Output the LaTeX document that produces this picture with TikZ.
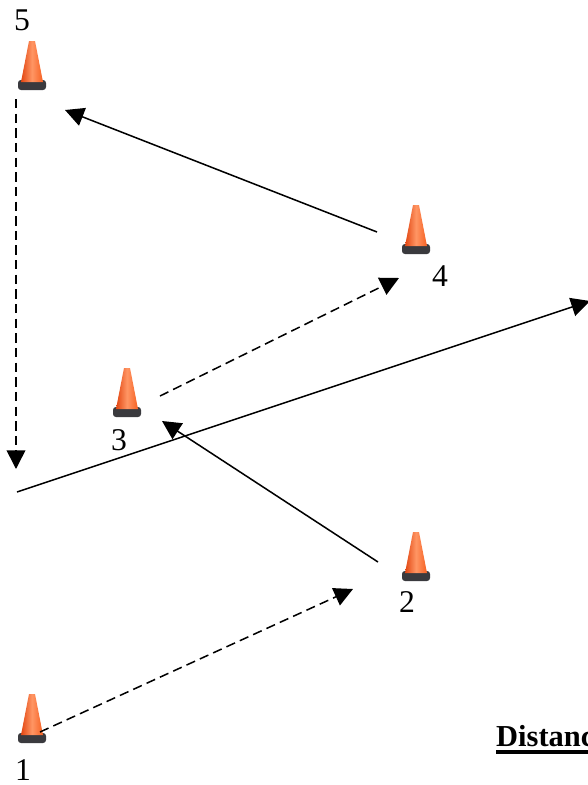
\documentclass[tikz,border=0pt]{standalone}
\usepackage{fontspec}
\setmainfont{Liberation Serif}
\usetikzlibrary{arrows.meta}

\definecolor{coneDark}{RGB}{226,70,18}
\definecolor{coneMid}{RGB}{246,96,34}
\definecolor{coneLight}{RGB}{255,150,100}
\definecolor{coneBase}{RGB}{58,58,62}

% one traffic cone, centre x and top y (in pixels)
\newcommand{\drawcone}[2]{%
  \begin{scope}[shift={(#1,#2)}]
    \fill[coneBase, rounded corners=2.5pt] (-14,39) rectangle (14,49);
    \shade[left color=coneDark, right color=coneMid, middle color=coneLight]
      (-3,0) -- (3,0) -- (11,41) -- (-11,41) -- cycle;
  \end{scope}}

\begin{document}
\begin{tikzpicture}[x=0.03cm, y=-0.03cm,
    lbl/.style={font=\fontsize{27}{30}\selectfont, inner sep=0pt},
    arr/.style={line width=1.3pt, -{Triangle[length=16pt,width=16pt]}},
    dasharr/.style={arr, dash pattern=on 8pt off 4.5pt}]
  \useasboundingbox (0,0) rectangle (587,785);
  % Cones
  \drawcone{32}{694}
  \drawcone{416}{532}
  \drawcone{127}{368}
  \drawcone{416}{205}
  \drawcone{32}{41}
  % Labels
  \node[lbl] (one) at (23,770) {1};
  \node[lbl] (two) at (407,602) {2};
  \node[lbl] (three) at (119,440) {3};
  \node[lbl] (four) at (440,276) {4};
  \node[lbl] (five) at (22,20) {5};
  \node[lbl, anchor=base west, font=\fontsize{26}{30}\selectfont\bfseries] (dist) at (496,746) {Distance};
  \fill (496,749.5) rectangle (640,753.5);
  % Path ends
  \coordinate (oneOut) at (40,732);
  \coordinate (twoIn) at (353,589);
  \coordinate (twoOut) at (378,562);
  \coordinate (threeIn) at (162,421);
  \coordinate (threeOut) at (160,396);
  \coordinate (fourIn) at (399,278);
  \coordinate (fourOut) at (377,232);
  \coordinate (fiveIn) at (65,110);
  \coordinate (fiveOut) at (16,99);
  \coordinate (downEnd) at (16,469);
  \coordinate (runStart) at (17,492);
  \coordinate (runEnd) at (590,301);
  % Arrows
  \draw[dasharr] (oneOut) -- (twoIn);
  \draw[arr] (twoOut) -- (threeIn);
  \draw[dasharr] (threeOut) -- (fourIn);
  \draw[arr] (fourOut) -- (fiveIn);
  \draw[dasharr] (fiveOut) -- (downEnd);
  \draw[arr] (runStart) -- (runEnd);
\end{tikzpicture}
\end{document}
